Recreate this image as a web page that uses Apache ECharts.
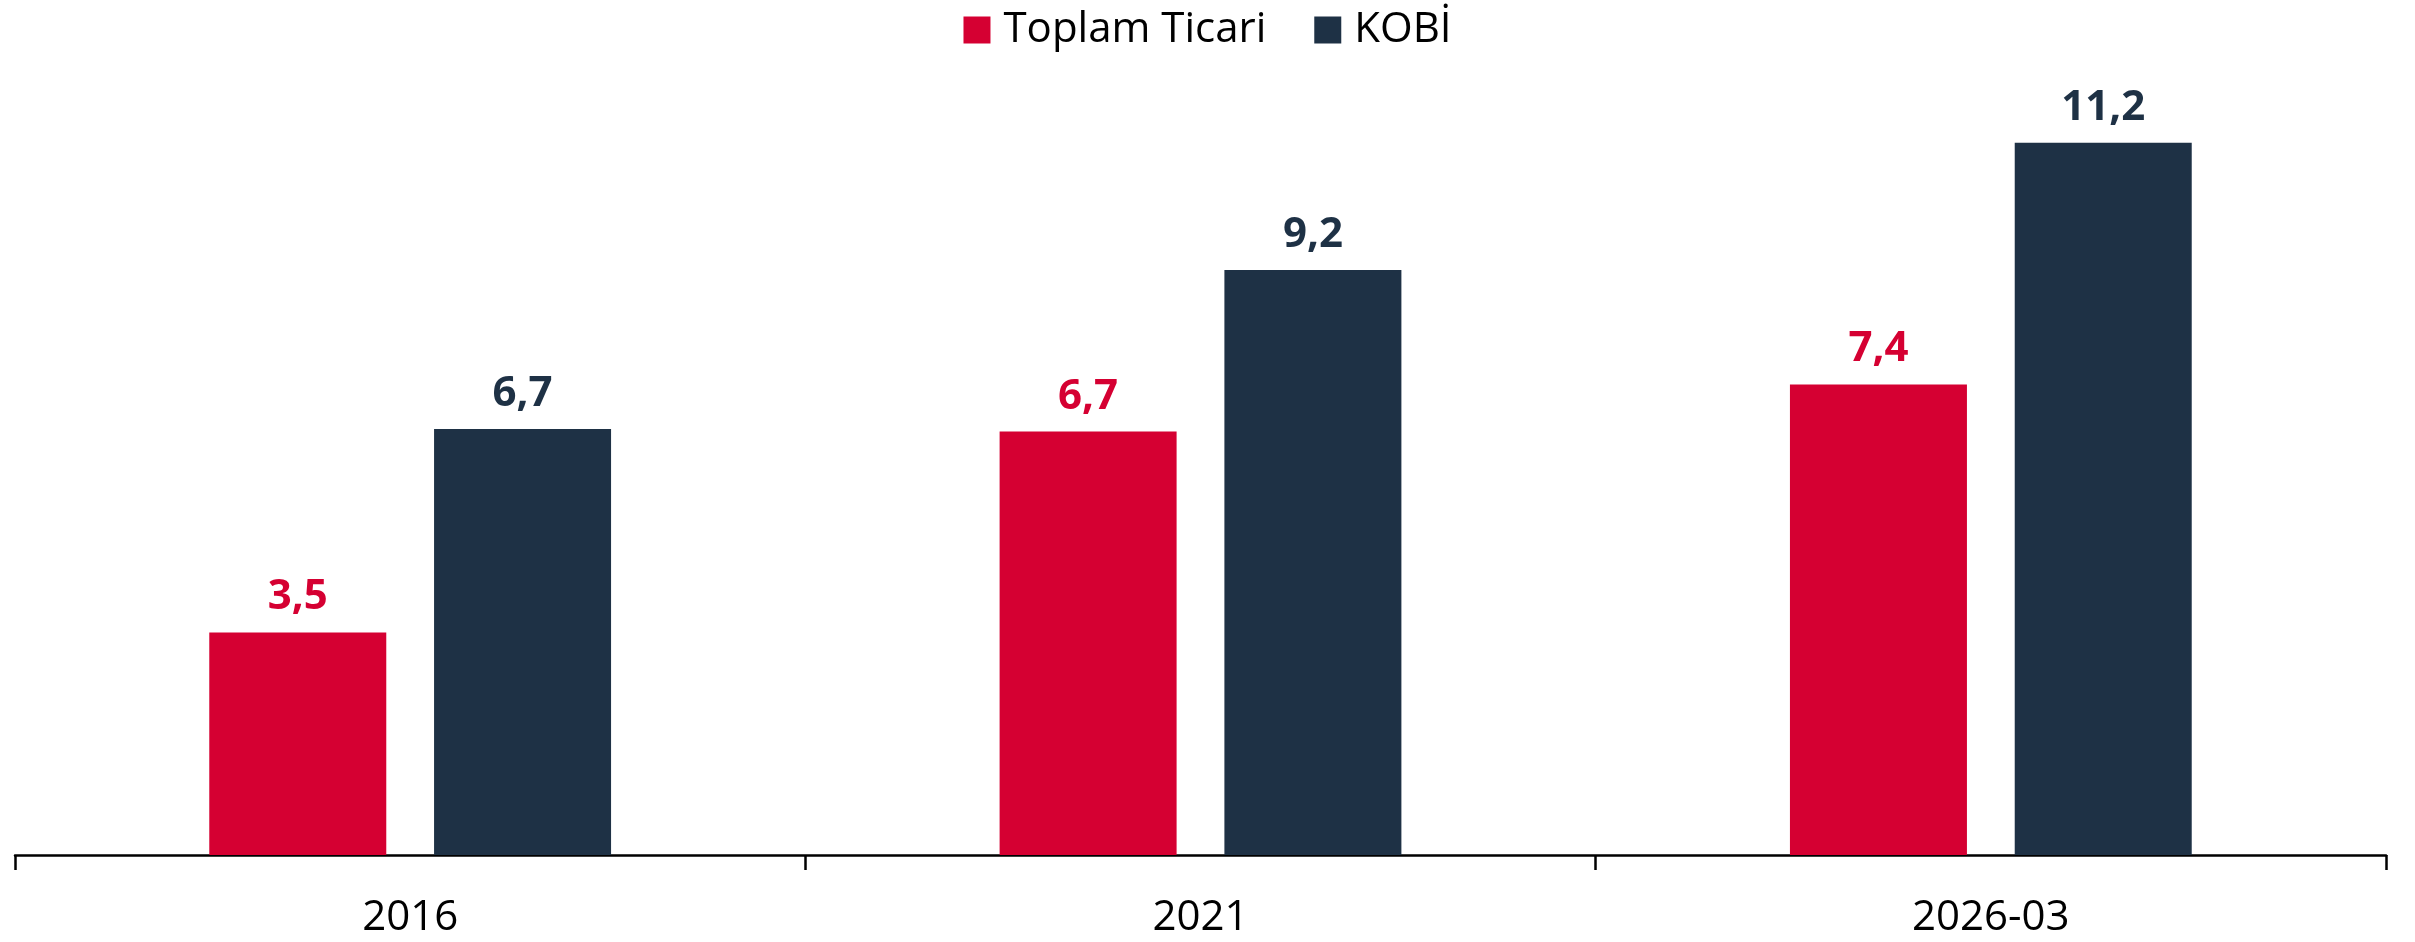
<!DOCTYPE html>
<html>
<head>
<meta charset="utf-8">
<title>Toplam Ticari / KOBİ</title>
<script src="https://cdn.jsdelivr.net/npm/echarts@6/dist/echarts.min.js"></script>
<style>
  html, body { margin: 0; padding: 0; background: #fff; }
  #chart { width: 2415px; height: 942px; }
</style>
</head>
<body>
<div id="chart"></div>
<script>
// veriler
var categories = ['2016', '2021', '2026-03'];
var toplamTicari = [3.5, 6.66, 7.4];
var kobi = [6.7, 9.2, 11.2];
var seriesNames = ['Toplam Ticari', 'KOBİ'];
var colors = ['#D50032', '#1E3145'];

var font = '"Open Sans", "Noto Sans", sans-serif';

// virgüllü ondalık gösterim
function fmt(p) {
    return p.value.toFixed(1).replace('.', ',');
}

function makeSeries(name, data, color) {
    return {
        name: name,
        type: 'bar',
        data: data,
        barWidth: 177,
        barGap: '27%',
        itemStyle: { color: color },
        label: {
            show: true,
            position: 'top',
            distance: 14,
            formatter: fmt,
            color: color,
            fontFamily: font,
            fontWeight: 'bold',
            fontSize: 42
        }
    };
}

var chart = echarts.init(document.getElementById('chart'));
chart.setOption({
    animation: false,
    legend: {
        top: 4,
        left: 'center',
        itemWidth: 27,
        itemHeight: 27,
        itemGap: 48,
        icon: 'rect',
        data: seriesNames,
        textStyle: {
            fontFamily: font,
            fontSize: 42,
            color: '#000',
            padding: [0, 0, 0, 8]
        }
    },
    grid: {
        left: 15,
        right: 29,
        top: 92,
        bottom: 87,
        containLabel: false
    },
    xAxis: {
        type: 'category',
        data: categories,
        axisLine: { lineStyle: { color: '#000', width: 2.5 } },
        axisTick: { show: true, length: 15, lineStyle: { color: '#000', width: 2.5 } },
        axisLabel: {
            margin: 42,
            color: '#000',
            fontFamily: font,
            fontSize: 42
        }
    },
    yAxis: {
        type: 'value',
        min: 0,
        max: 12,
        show: false,
        splitLine: { show: false }
    },
    series: [
        makeSeries(seriesNames[0], toplamTicari, colors[0]),
        makeSeries(seriesNames[1], kobi, colors[1])
    ]
});
</script>
</body>
</html>
